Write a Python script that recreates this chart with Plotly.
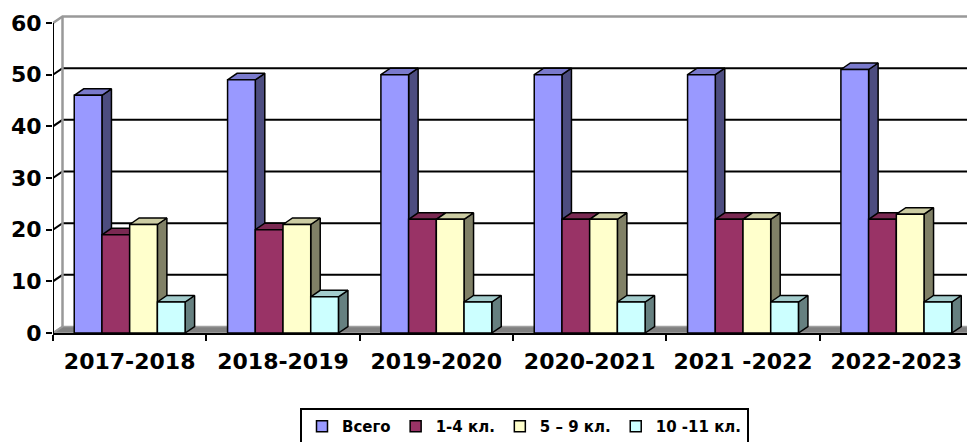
import plotly.graph_objects as go

# ---------------- data ----------------
categories = ["2017-2018", "2018-2019", "2019-2020", "2020-2021", "2021 -2022", "2022-2023"]
series_names = ["Всего", "1-4 кл.", "5 – 9 кл.", "10 -11 кл."]
vsego = [46, 49, 50, 50, 50, 51]
kl_1_4 = [19, 20, 22, 22, 22, 22]
kl_5_9 = [21, 21, 22, 22, 22, 23]
kl_10_11 = [6, 7, 6, 6, 6, 6]
y_ticks = [0, 10, 20, 30, 40, 50, 60]

series = [vsego, kl_1_4, kl_5_9, kl_10_11]

# ---------------- styles ----------------
front_col = ["#9999FF", "#993366", "#FFFFCC", "#CCFFFF"]
top_col = ["#7A7ACC", "#7A2952", "#CCCCA3", "#A3CCCC"]
side_col = ["#4D4D80", "#4D1A33", "#808066", "#668080"]
FONT = "DejaVu Sans"

OFF = 8  # default page body margin
W, H = 975 - OFF, 442 - OFF
AX_L, AX_B, AX_T = 53 - OFF, 333 - OFF, 15 - OFF   # plot-area edges in figure px
ML, MR, MT, MB = AX_L, 0, AX_T, H - AX_B
plot_w = W - ML - MR
plot_h = H - MT - MB
px_per_x = 920 / 6.0
px_per_y = 310 / 60.0
x_min = -0.5
x_max = x_min + plot_w / px_per_x
y_max = plot_h / px_per_y
DX = 9.5 / px_per_x      # depth offset (data units)
DY = 6.5 / px_per_y
GAP = 0.277
BW = (1 - GAP) / len(series)

fig = go.Figure()

def poly_trace(xs, ys, fill, line_col, lw):
    return go.Scatter(x=xs, y=ys, mode="lines", fill="toself", fillcolor=fill,
                      line=dict(color=line_col, width=lw), showlegend=False,
                      hoverinfo="skip")

def line_trace(xs, ys, col, lw):
    return go.Scatter(x=xs, y=ys, mode="lines", line=dict(color=col, width=lw),
                      showlegend=False, hoverinfo="skip")

# floor
fig.add_trace(poly_trace([x_min, x_max + DX, x_max + DX, x_min + DX, x_min],
                         [0, 0, DY, DY, 0], "#808080", "#A0A0A0", 1.5))

# gridlines on back wall and left wall
for t in y_ticks[1:-1]:
    fig.add_trace(line_trace([x_min, x_min + DX, x_max + DX], [t, t + DY, t + DY], "black", 2))

# wall edges
fig.add_trace(line_trace([x_min + DX, x_min + DX], [DY, y_ticks[-1] + DY], "#999999", 2.5))
fig.add_trace(line_trace([x_min, x_min + DX, x_max + DX],
                         [y_ticks[-1], y_ticks[-1] + DY, y_ticks[-1] + DY], "#999999", 2.5))
fig.add_trace(line_trace([x_min, x_min + DX], [0, DY], "#999999", 2))

# bars (3D faces)
for s, vals in enumerate(series):
    sx, sy, tx, ty, fx, fy = [], [], [], [], [], []
    for i, v in enumerate(vals):
        x0 = i - 0.5 + GAP / 2 + s * BW
        x1 = x0 + BW
        sx += [x1, x1 + DX, x1 + DX, x1, x1, None]
        sy += [0, DY, v + DY, v, 0, None]
        tx += [x0, x1, x1 + DX, x0 + DX, x0, None]
        ty += [v, v, v + DY, v + DY, v, None]
        fx += [x0, x1, x1, x0, x0, None]
        fy += [0, 0, v, v, 0, None]
    fig.add_trace(poly_trace(sx, sy, side_col[s], "black", 1.5))
    fig.add_trace(poly_trace(tx, ty, top_col[s], "black", 1.5))
    fig.add_trace(poly_trace(fx, fy, front_col[s], "black", 1.5))

# front y axis line
fig.add_trace(line_trace([x_min, x_min], [y_ticks[0], y_ticks[-1]], "black", 2))

# legend entries
for s, name in enumerate(series_names):
    fig.add_trace(go.Scatter(x=[None], y=[None], mode="markers", name=name,
                             marker=dict(symbol="square", size=11, color=front_col[s],
                                         line=dict(color="black", width=1.5))))

# dummy trace for category label axis
fig.add_trace(go.Scatter(x=[None], y=[None], xaxis="x2", showlegend=False, hoverinfo="skip"))

fig.update_layout(
    template="none",
    width=W, height=H,
    margin=dict(l=ML, r=MR, t=MT, b=MB, autoexpand=False),
    plot_bgcolor="white", paper_bgcolor="white",
    font=dict(family=FONT, color="black"),
    showlegend=True,
    xaxis=dict(range=[x_min, x_max], tickvals=[x_min + k for k in range(len(categories) + 1)],
               showticklabels=False, ticks="outside", ticklen=6, tickwidth=2, tickcolor="black",
               showline=True, linecolor="black", linewidth=2, showgrid=False, zeroline=False,
               automargin=False),
    xaxis2=dict(range=[x_min, x_max], overlaying="x", anchor="y", side="bottom",
                tickvals=list(range(len(categories))), ticktext=categories,
                ticks="outside", ticklen=9, tickcolor="rgba(0,0,0,0)",
                tickfont=dict(family=FONT, size=22, weight="bold", color="black"),
                showline=False, showgrid=False, zeroline=False, automargin=False),
    yaxis=dict(range=[0, y_max], tickvals=y_ticks, ticks="outside", ticklen=6, tickwidth=2,
               tickcolor="black", showline=False, showgrid=False, zeroline=False,
               automargin=False,
               tickfont=dict(family=FONT, size=22, weight="bold", color="black")),
    legend=dict(orientation="h", x=(300 - 53) / plot_w, xanchor="left",
                y=(333 - 408) / plot_h, yanchor="top",
                bordercolor="black", borderwidth=2, bgcolor="white",
                font=dict(family=FONT, size=15, weight="bold", color="black"),
                itemwidth=30, tracegroupgap=0),
)

fig.write_html("out.html")
